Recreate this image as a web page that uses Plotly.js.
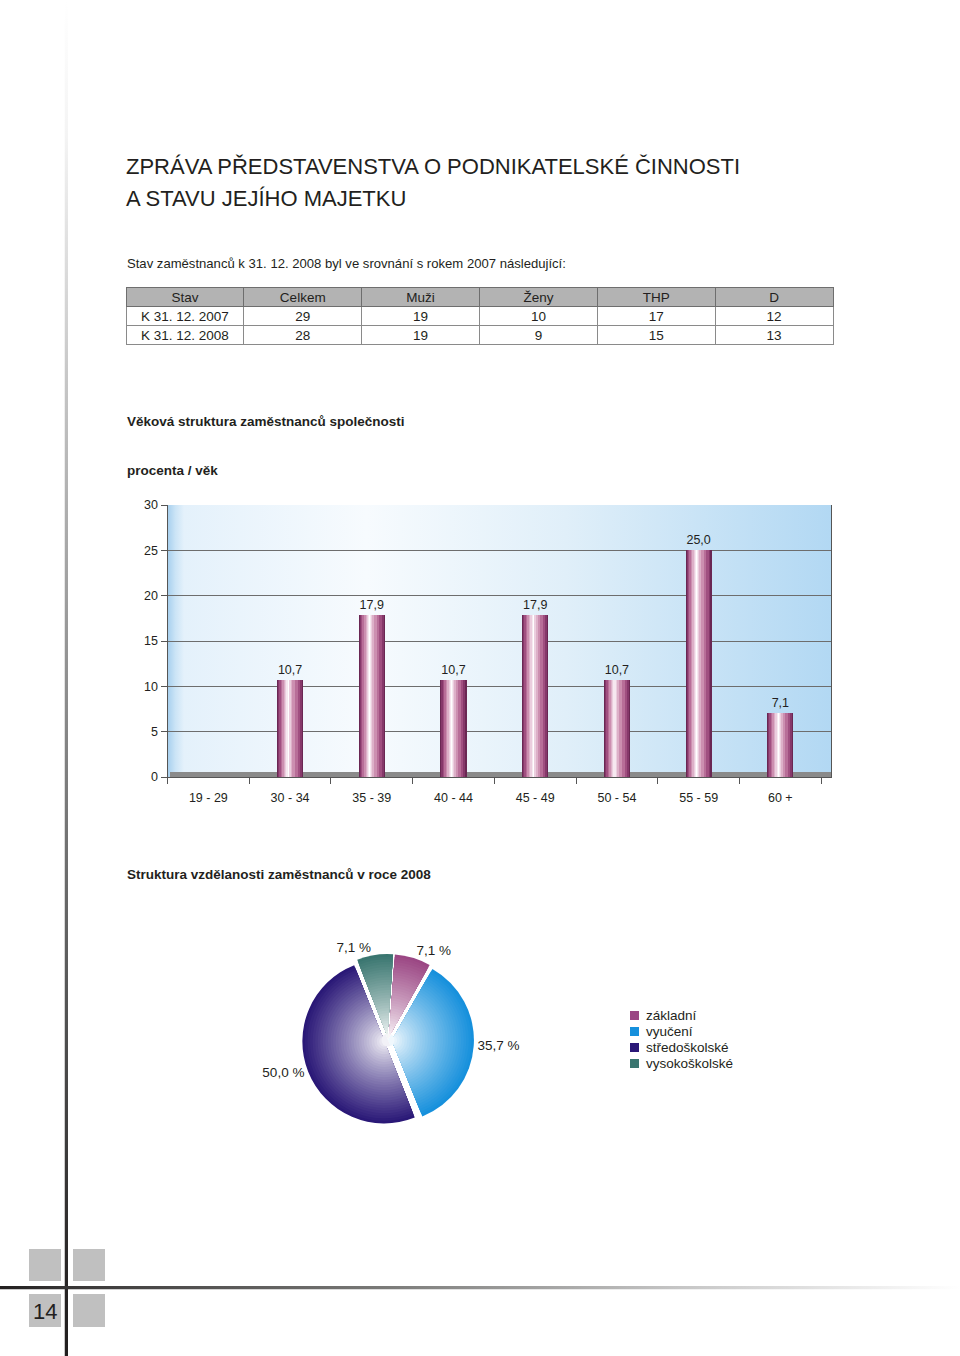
<!DOCTYPE html>
<html><head><meta charset="utf-8">
<script src="https://cdn.plot.ly/plotly-3.0.1.min.js"></script>
<style>html,body{margin:0;padding:0;background:#fff;}#page{width:960px;height:1356px;}
.cell-text{transform:translateY(-3px);}</style>
</head><body><div id="page"></div>
<script>
// ---------------- data ----------------
const titleLine1 = 'ZPRÁVA PŘEDSTAVENSTVA O PODNIKATELSKÉ ČINNOSTI';
const titleLine2 = 'A STAVU JEJÍHO MAJETKU';
const introText = 'Stav zaměstnanců k 31. 12. 2008 byl ve srovnání s rokem 2007 následující:';
const tableHeader = ['Stav', 'Celkem', 'Muži', 'Ženy', 'THP', 'D'];
const tableRows = ['K 31. 12. 2007', 'K 31. 12. 2008'];
const celkem = [29, 28];
const muzi = [19, 19];
const zeny = [10, 9];
const thp = [17, 15];
const dCol = [12, 13];
const ageTitle = 'Věková struktura zaměstnanců společnosti';
const ageUnit = 'procenta / věk';
const ageGroups = ['19 - 29', '30 - 34', '35 - 39', '40 - 44', '45 - 49', '50 - 54', '55 - 59', '60 +'];
const agePct = [0, 10.7, 17.9, 10.7, 17.9, 10.7, 25.0, 7.1];
const ageTicks = [0, 5, 10, 15, 20, 25, 30];
const eduTitle = 'Struktura vzdělanosti zaměstnanců v roce 2008';
const eduLabels = ['základní', 'vyučení', 'středoškolské', 'vysokoškolské'];
const eduPct = [7.1, 35.7, 50.0, 7.1];
const pageNumber = '14';

// ---------------- helpers ----------------
const W = 960, H = 1356;
const X = p => p / W, Y = p => 1 - p / H;
const FONT = '"Liberation Sans", Arial, Helvetica, sans-serif';
const INK = '#231f20';
const fmt = v => v.toFixed(1).replace('.', ',');

function svgURI(svg) { return 'data:image/svg+xml;charset=utf-8,' + encodeURIComponent(svg); }
function linGrad(vertical, stops) {
  const st = stops.map(s => `<stop offset="${s[0]}" stop-color="${s[1]}"/>`).join('');
  return svgURI(`<svg xmlns="http://www.w3.org/2000/svg" width="100" height="100" viewBox="0 0 100 100" preserveAspectRatio="none"><defs><linearGradient id="g" x1="0" y1="0" x2="${vertical ? 0 : 1}" y2="${vertical ? 1 : 0}">${st}</linearGradient></defs><rect width="100" height="100" fill="url(#g)"/></svg>`);
}
function img(src, x0, y0, x1, y1) {
  return { source: src, xref: 'paper', yref: 'paper', x: X(x0), y: Y(y0), sizex: (x1 - x0) / W, sizey: (y1 - y0) / H,
    xanchor: 'left', yanchor: 'top', sizing: 'stretch', layer: 'below' };
}
function txt(text, x, y, size, bold, anchor) {
  return { xref: 'paper', yref: 'paper', x: X(x), y: Y(y), xanchor: anchor || 'left', yanchor: 'middle', showarrow: false,
    text: bold ? '<b>' + text + '</b>' : text, font: { family: FONT, size: size, color: INK } };
}
function mix(hex, t) {
  const n = parseInt(hex.slice(1), 16);
  const r = (n >> 16) & 255, g = (n >> 8) & 255, b = n & 255;
  const m = c => Math.round(255 + (c - 255) * t);
  return `rgb(${m(r)},${m(g)},${m(b)})`;
}
function rect(x0, y0, x1, y1, color) {
  return { type: 'rect', xref: 'paper', yref: 'paper', x0: X(x0), x1: X(x1), y0: Y(y1), y1: Y(y0),
    fillcolor: color, line: { width: 0 }, layer: 'below' };
}

const traces = [];

// ---------------- table ----------------
traces.push({
  type: 'table',
  domain: { x: [X(126), X(833)], y: [Y(346), Y(287)] },
  columnwidth: [1, 1, 1, 1, 1, 1],
  header: { values: tableHeader, align: 'center', height: 19,
    fill: { color: '#b3b3b3' }, line: { color: '#6e6e6e', width: 1 },
    font: { family: FONT, size: 13.5, color: INK } },
  cells: { values: [tableRows, celkem, muzi, zeny, thp, dCol], align: 'center', height: 19,
    fill: { color: '#ffffff' }, line: { color: '#8a8a8a', width: 1 },
    font: { family: FONT, size: 13.5, color: INK } }
});

// ---------------- bar chart (nested layers give the cylinder shading) ----------------
const barW = 0.32;
const barLayers = [
  ['#6a2753', 0.00, 1.00], ['#86386a', 0.04, 0.95], ['#a04f80', 0.08, 0.88], ['#b86e98', 0.14, 0.79],
  ['#cc8fb0', 0.20, 0.69], ['#ddb0c8', 0.26, 0.59], ['#ebcede', 0.31, 0.52], ['#f6e8f0', 0.36, 0.47],
  ['#ffffff', 0.41, 0.44]
];
barLayers.forEach((L, i) => {
  traces.push({
    type: 'bar', x: ageGroups, y: agePct, xaxis: 'x', yaxis: 'y',
    offset: -barW / 2 + L[1] * barW, width: (L[2] - L[1]) * barW,
    marker: { color: L[0], line: { width: 0 } },
    showlegend: false, hoverinfo: 'skip',
    text: i === 0 ? agePct.map(v => v > 0 ? fmt(v) : '') : undefined,
    textposition: i === 0 ? 'outside' : 'none',
    textfont: { family: FONT, size: 12.5, color: INK },
    cliponaxis: false
  });
});

// ---------------- pie (concentric layers give the radial shading) ----------------
const eduColors = ['#9b4784', '#1690dc', '#2a1877', '#3a7670'];
const pieCx = 388, pieCy = 1040, r0 = 82, pullP = 0.048;
const nLayers = 32;
for (let i = 0; i < nLayers; i++) {
  const s = 1 - i / nLayers;
  const t = Math.pow(s, 0.8);
  const h = r0 * (s + pullP);
  const outer = i === 0;
  traces.push({
    type: 'pie', labels: eduLabels, values: eduPct, sort: false, direction: 'clockwise', rotation: 4,
    domain: { x: [X(pieCx - h), X(pieCx + h)], y: [Y(pieCy + h), Y(pieCy - h)] },
    pull: pullP / s,
    marker: { colors: eduColors.map(c => mix(c, outer ? 1 : t)), line: { width: 0 } },
    text: outer ? eduPct.map(v => fmt(v) + ' %') : undefined,
    textinfo: outer ? 'text' : 'none',
    textposition: 'outside',
    outsidetextfont: { family: FONT, size: 13.5, color: INK },
    showlegend: false, hoverinfo: 'skip'
  });
}

// legend for the pie, built from the label/colour arrays
const legendShapes = eduColors.map((c, i) => rect(630, 1011 + 16 * i, 639, 1020 + 16 * i, c));
const legendTexts = eduLabels.map((l, i) => txt(l, 644, 1015.5 + 16 * i, 13.5));

// ---------------- layout ----------------
const layout = {
  width: W, height: H, margin: { l: 0, r: 0, t: 0, b: 0 },
  paper_bgcolor: '#ffffff', plot_bgcolor: 'rgba(0,0,0,0)',
  barmode: 'overlay', bargap: 0,
  font: { family: FONT, color: INK },
  showlegend: false,
  xaxis: { domain: [X(167.5), X(831)], type: 'category', range: [-0.5, 7.62], tickson: 'boundaries',
    ticks: 'outside', ticklen: 6, tickcolor: '#555', showline: true, linecolor: '#555', linewidth: 1,
    showgrid: false, zeroline: false, ticklabelstandoff: 9,
    tickfont: { family: FONT, size: 12.5, color: INK }, fixedrange: true },
  yaxis: { domain: [Y(777), Y(505)], range: [0, 30], tickvals: ageTicks, ticks: 'outside', ticklen: 6,
    tickcolor: '#555', showline: true, mirror: true, linecolor: '#555', showgrid: true, gridcolor: '#6d6d6d',
    gridwidth: 1, zeroline: false, tickfont: { family: FONT, size: 12.5, color: INK }, fixedrange: true },
  images: [
    img(linGrad(false, [[0, '#a6cfee'], [0.012, '#cbe4f6'], [0.025, '#e4f1fb'], [0.3, '#f7fbfe'], [0.6, '#e0eff9'], [1, '#b2d8f3']]), 167.5, 505, 831, 777),
    img(linGrad(true, [[0, '#ffffff'], [0.1, '#f4f4f4'], [0.37, '#b0b0b0'], [0.74, '#555555'], [0.95, '#262323'], [1, '#221f1f']]), 64.5, 0, 68, 1356),
    img(linGrad(false, [[0, '#222020'], [0.08, '#3a3838'], [0.4, '#7a7a78'], [0.7, '#c4c4c4'], [1, '#ffffff']]), 0, 1286, 960, 1289.5)
  ],
  shapes: [
    rect(170, 772, 831, 778, '#8a8a8a'),
    rect(29, 1249, 61, 1281, '#c0c0c0'),
    rect(73, 1249, 105, 1281, '#c0c0c0'),
    rect(29, 1294, 61, 1327, '#c0c0c0'),
    rect(73, 1294, 105, 1327, '#c0c0c0')
  ].concat(legendShapes),
  annotations: [
    txt(titleLine1, 124, 167, 22),
    txt(titleLine2, 124, 199, 22),
    txt(introText, 125, 263, 13.1),
    txt(ageTitle, 125, 421, 13.5, true),
    txt(ageUnit, 125, 471, 13.5, true),
    txt(eduTitle, 125, 874, 13.5, true),
    txt(pageNumber, 45, 1311, 22, false, 'center')
  ].concat(legendTexts)
};

Plotly.newPlot('page', traces, layout, { displayModeBar: false, staticPlot: true });
</script>
</body></html>
